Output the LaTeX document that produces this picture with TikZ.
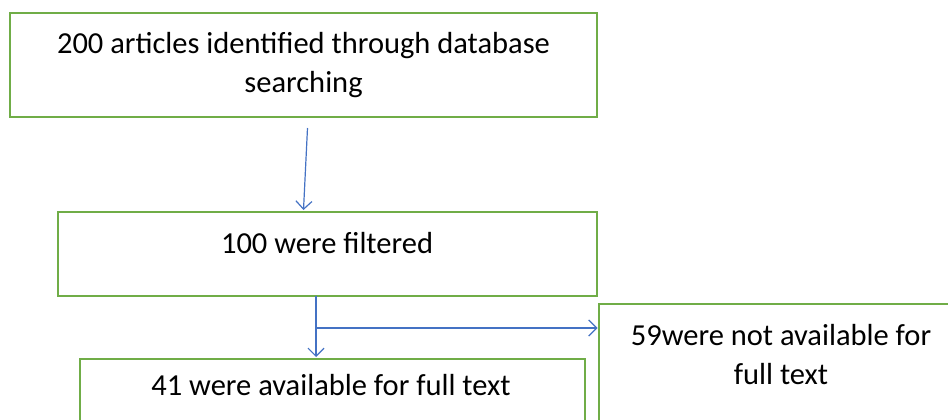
\documentclass[tikz,border=0pt]{standalone}
\usepackage{fontspec}
\setmainfont{Carlito}
\usetikzlibrary{arrows.meta}
\definecolor{boxgreen}{RGB}{112,173,71}
\definecolor{linkblue}{RGB}{68,114,196}
\begin{document}
\begin{tikzpicture}[x=1pt,y=-1pt,
  flowbox/.style={draw=boxgreen, line width=2.8pt, rectangle, inner sep=0pt},
  label text/.style={align=center, inner sep=0pt, font=\fontsize{30.5}{39}\selectfont},
  link/.style={draw=linkblue, line width=1.2pt, -{Straight Barb[length=8pt,width=16pt,line width=1.2pt]}}]
\useasboundingbox (0,0) rectangle (948,420);
\fill[white] (0,0) rectangle (948,420);

% boxes
\node[flowbox, minimum width=587pt, minimum height=104pt] (b1) at (303.5,65) {};
\node[flowbox, minimum width=539pt, minimum height=84pt] (b2) at (327.5,254) {};
\node[flowbox, minimum width=505pt, minimum height=81pt] (b3) at (332.5,399.5) {};
\node[flowbox, minimum width=361pt, minimum height=136pt] (b4) at (779.5,372) {};

% texts
\node[label text] (t1) at (303.5,65) {200 articles identified through database\\searching};
\node[label text] (t2) at (327,243) {100 were filtered};
\node[label text] (t3) at (331,385) {41 were available for full text};
\node[label text] (t4) at (781,355) {59were not available for\\full text};

% connector end points
\coordinate (a1s) at (307.5,128);
\coordinate (a1e) at (303.5,210);
\coordinate (a2s) at (316,296);
\coordinate (a2e) at (316,357);
\coordinate (split) at (316,328);
\coordinate (a3e) at (597.5,328);

\draw[link] (a1s) -- (a1e);
\draw[link] (a2s) -- (a2e);
\draw[link] (split) -- (a3e);
\end{tikzpicture}
\end{document}
